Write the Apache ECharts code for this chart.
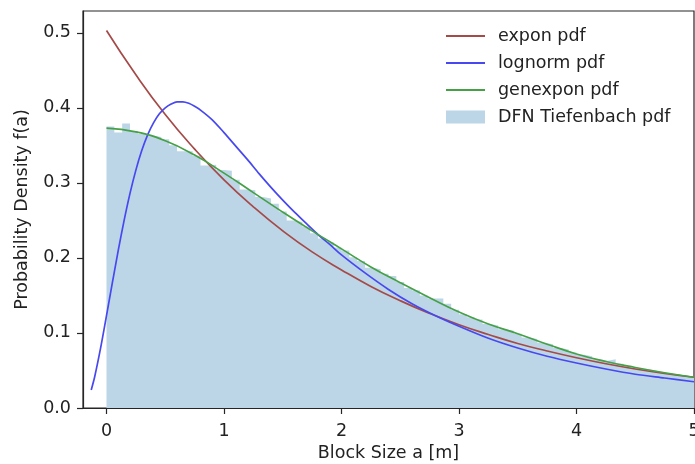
<!DOCTYPE html>
<html><head><meta charset="utf-8">
<script src="https://cdn.jsdelivr.net/npm/echarts@6/dist/echarts.min.js"></script>
<style>html,body{margin:0;padding:0;background:#fff}#c{width:695px;height:464px}</style>
</head><body><div id="c"></div>
<script>
const xTicks = [0, 1, 2, 3, 4, 5];
const yTicks = [0, 0.1, 0.2, 0.3, 0.4, 0.5];

const exponX = [0,0.25,0.5,0.75,1,1.25,1.5,1.75,2,2.25,2.5,2.75,3,3.25,3.5,3.75,4,4.25,4.5,4.75,5];
const exponY = [0.503,0.444,0.391,0.345,0.304,0.268,0.236,0.208,0.184,0.162,0.143,0.126,0.111,0.098,0.086,0.076,0.067,0.059,0.052,0.046,0.041];

const lognormX = [-0.13,-0.1,-0.05,0,0.05,0.1,0.15,0.2,0.25,0.3,0.35,0.4,0.45,0.5,0.55,0.6,0.65,0.7,0.75,0.8,0.9,1.0,1.1,1.2,1.3,1.4,1.5,1.6,1.7,1.8,1.9,2.0,2.2,2.4,2.6,2.8,3.0,3.25,3.5,3.75,4.0,4.25,4.5,4.75,5.0];
const lognormY = [0.024,0.042,0.080,0.123,0.167,0.210,0.250,0.286,0.317,0.343,0.364,0.380,0.392,0.400,0.405,0.408,0.408,0.406,0.402,0.397,0.384,0.367,0.349,0.331,0.312,0.294,0.277,0.261,0.246,0.231,0.218,0.204,0.180,0.158,0.139,0.123,0.109,0.093,0.080,0.069,0.060,0.052,0.045,0.040,0.035];

const genexponX = [0,0.25,0.5,0.75,1,1.25,1.5,1.75,2,2.25,2.5,2.75,3,3.25,3.5,3.75,4,4.25,4.5,4.75,5];
const genexponY = [0.373,0.368,0.356,0.337,0.313,0.287,0.261,0.236,0.212,0.188,0.167,0.147,0.128,0.112,0.099,0.085,0.072,0.062,0.054,0.047,0.041];

const histBinStart = 0;
const histBinWidth = 1 / 15;
const histHeights = [
  0.375,0.367,0.379,0.369,0.365,0.363,0.361,0.358,0.350,0.342,
  0.342,0.336,0.323,0.324,0.317,0.316,0.304,0.291,0.290,0.281,
  0.279,0.272,0.262,0.250,0.248,0.242,0.233,0.226,0.221,0.214,
  0.210,0.201,0.196,0.187,0.185,0.179,0.176,0.168,0.160,0.157,
  0.150,0.146,0.146,0.139,0.131,0.125,0.121,0.118,0.112,0.110,
  0.105,0.103,0.099,0.094,0.092,0.087,0.085,0.080,0.078,0.074,
  0.071,0.069,0.065,0.063,0.065,0.059,0.056,0.053,0.052,0.050,
  0.048,0.046,0.045,0.043,0.042
];

const names = ['expon pdf', 'lognorm pdf', 'genexpon pdf', 'DFN Tiefenbach pdf'];
const colors = { expon: '#a44a48', lognorm: '#4848f0', genexpon: '#46a046', hist: '#bcd6e8' };

function pairs(xs, ys) { return xs.map((x, i) => [x, ys[i]]); }
const histPoints = histHeights.map((h, i) => [histBinStart + i * histBinWidth, h]);
histPoints.push([histBinStart + histHeights.length * histBinWidth, histHeights[histHeights.length - 1]]);

const FONT = 'DejaVu Sans';
const TXT = '#222';
const FS = 17.5;

const chart = echarts.init(document.getElementById('c'), null, { renderer: 'canvas' });
chart.setOption({
  animation: false,
  backgroundColor: '#fff',
  grid: { left: 83, right: 1, top: 11, bottom: 56, containLabel: false, outerBoundsMode: 'none',
          show: true, borderColor: '#262626', borderWidth: 1.2, backgroundColor: 'transparent' },
  xAxis: {
    type: 'value', min: -0.2, max: 5,
    name: 'Block Size a [m]', nameLocation: 'middle', nameGap: 36,
    nameTextStyle: { fontFamily: FONT, fontSize: FS, color: TXT },
    axisLine: { show: true, onZero: false, lineStyle: { color: '#262626', width: 1.2 } },
    axisTick: { show: true, inside: false, length: 6, customValues: xTicks, lineStyle: { color: '#262626', width: 1.2 } },
    axisLabel: { customValues: xTicks, margin: 14, fontFamily: FONT, fontSize: FS, color: TXT, formatter: v => String(v) },
    splitLine: { show: false }
  },
  yAxis: {
    type: 'value', min: 0, max: 0.529,
    name: 'Probability Density f(a)', nameLocation: 'middle', nameGap: 52,
    nameTextStyle: { fontFamily: FONT, fontSize: FS, color: TXT },
    axisLine: { show: true, onZero: false, lineStyle: { color: '#262626', width: 1.2 } },
    axisTick: { show: true, inside: false, length: 6, customValues: yTicks, lineStyle: { color: '#262626', width: 1.2 } },
    axisLabel: { customValues: yTicks, margin: 12, fontFamily: FONT, fontSize: FS, color: TXT, formatter: v => v.toFixed(1) },
    splitLine: { show: false }
  },
  legend: {
    orient: 'vertical', left: 445, top: 27, padding: 0,
    itemWidth: 39, itemHeight: 13, itemGap: 9,
    selectedMode: false,
    itemStyle: { opacity: 0 },
    textStyle: { fontFamily: FONT, fontSize: FS, color: TXT, lineHeight: 17, padding: [0, 0, 0, 8] },
    data: [
      { name: names[0] },
      { name: names[1] },
      { name: names[2] },
      { name: names[3], icon: 'rect', itemStyle: { color: colors.hist, opacity: 1 } }
    ]
  },
  series: [
    {
      name: names[3], type: 'line', step: 'end', data: histPoints,
      symbol: 'none', lineStyle: { width: 0, color: colors.hist },
      itemStyle: { color: colors.hist },
      areaStyle: { color: colors.hist, opacity: 1 }, z: 1
    },
    {
      name: names[0], type: 'line', data: pairs(exponX, exponY), smooth: true,
      symbol: 'none', lineStyle: { width: 1.7, color: colors.expon }, itemStyle: { color: colors.expon }, z: 3
    },
    {
      name: names[1], type: 'line', data: pairs(lognormX, lognormY), smooth: 0.3,
      symbol: 'none', lineStyle: { width: 1.7, color: colors.lognorm }, itemStyle: { color: colors.lognorm }, z: 4
    },
    {
      name: names[2], type: 'line', data: pairs(genexponX, genexponY), smooth: true,
      symbol: 'none', lineStyle: { width: 1.7, color: colors.genexpon }, itemStyle: { color: colors.genexpon }, z: 5
    }
  ]
});
</script>
</body></html>
